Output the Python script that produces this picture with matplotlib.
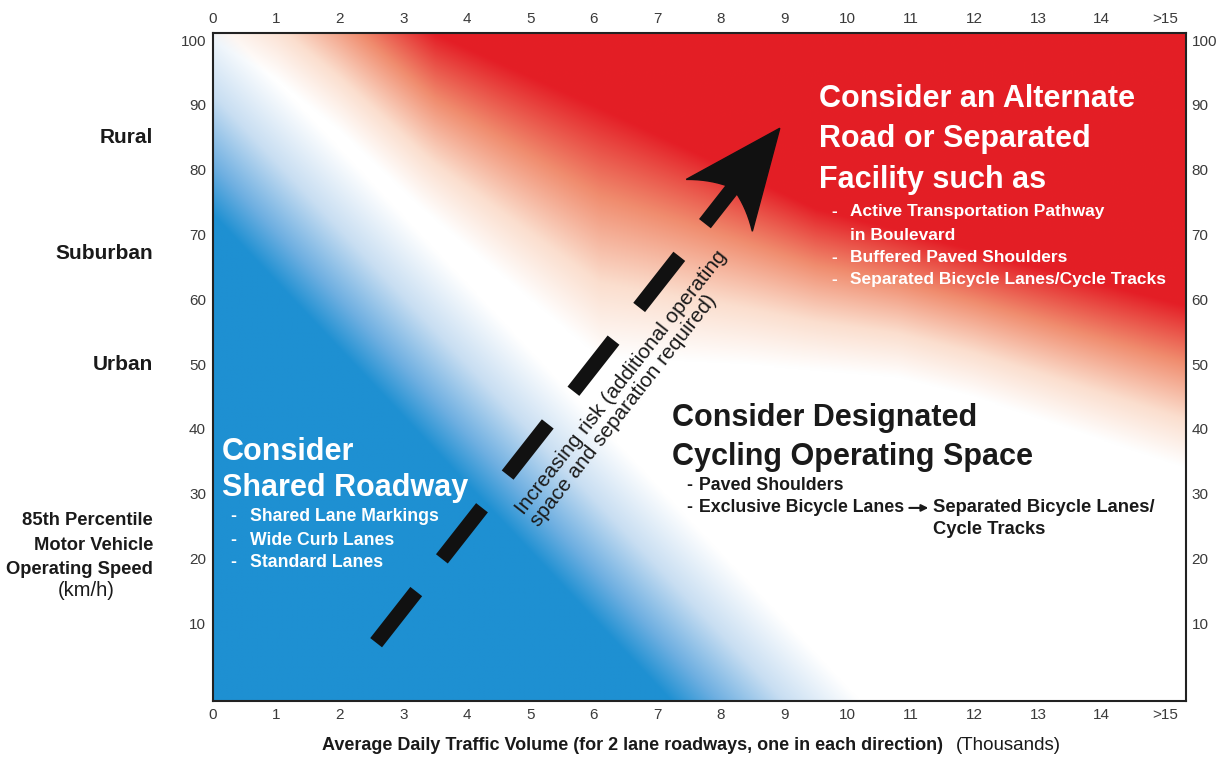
import numpy as np
import matplotlib
matplotlib.use('Agg')
import matplotlib.pyplot as plt
from matplotlib.patches import Polygon
from matplotlib.transforms import blended_transform_factory

plt.rcParams['lines.scale_dashes'] = False

# --- данные ---
volume_ticks = list(range(16))
volume_labels = [str(v) for v in range(15)] + ['>15']
speed_ticks = [10, 20, 30, 40, 50, 60, 70, 80, 90, 100]
area_labels = ['Rural', 'Suburban', 'Urban']
area_speeds = [85, 67, 50]

# границы зон (x - тыс. авто/сутки, y - км/ч)
blue_full_x = [0, 15.33]
blue_full_y = [73, -86.4]
blue_white_x = [0, 15.33]
blue_white_y = [104, -55.4]
red_full_x = [0, 3.5, 6, 9.5, 15.33]
red_full_y = [130, 101, 90, 74, 59]
red_white_x = [0, 1, 2, 3.3, 6.1, 8.4, 10.8, 12, 15.33]
red_white_y = [100, 94, 86, 74, 51, 50, 48, 45, 34]

arrow_start = (2.57, 7.0)
arrow_tip = (8.93, 86.4)

shared_title = ['Consider', 'Shared Roadway']
shared_items = ['Shared Lane Markings', 'Wide Curb Lanes', 'Standard Lanes']
designated_title = ['Consider Designated', 'Cycling Operating Space']
designated_items = ['Paved Shoulders', 'Exclusive Bicycle Lanes']
separated_note = ['Separated Bicycle Lanes/', 'Cycle Tracks']
alternate_title = ['Consider an Alternate', 'Road or Separated', 'Facility such as']
alternate_items = ['Active Transportation Pathway', 'in Boulevard',
                   'Buffered Paved Shoulders', 'Separated Bicycle Lanes/Cycle Tracks']

XMAX, YMIN, YMAX = 15.33, -2, 101.1
BLUE = np.array([30, 144, 210]) / 255
RED = np.array([228, 30, 38]) / 255
INK = '#1a1a1a'
FONT = ['Liberation Sans', 'DejaVu Sans']

fig = plt.figure(figsize=(12.31, 7.57), dpi=100)
ax = fig.add_axes([213 / 1231, 1 - 701 / 757, 973 / 1231, 668 / 757])
ax.set_xlim(0, XMAX)
ax.set_ylim(YMIN, YMAX)

# фон-градиент
xs = np.linspace(0, XMAX, 900)
ys = np.linspace(YMIN, YMAX, 650)
gx, gy = np.meshgrid(xs, ys)

bf = np.interp(gx, blue_full_x, blue_full_y)
bw = np.interp(gx, blue_white_x, blue_white_y)
fb = np.clip((bw - gy) / (bw - bf), 0, 1)

rf = np.interp(gx, red_full_x, red_full_y)
rw = np.interp(gx, red_white_x, red_white_y)
fr = np.clip((gy - rw) / (rf - rw), 0, 1)


def ramp(t, stops, cols):
    out = np.zeros(t.shape + (3,))
    for c in range(3):
        out[..., c] = np.interp(t, stops, [col[c] for col in cols])
    return out


blue_rgb = ramp(fb, [0, 0.4, 0.75, 1],
                [(1, 1, 1), (200 / 255, 222 / 255, 242 / 255), (110 / 255, 175 / 255, 225 / 255), BLUE])
red_rgb = ramp(fr, [0, 0.3, 0.65, 1],
               [(1, 1, 1), (251 / 255, 222 / 255, 206 / 255), (240 / 255, 140 / 255, 110 / 255), RED])
rgb = np.clip(blue_rgb + red_rgb - 1, 0, 1)
ax.imshow(rgb, extent=[0, XMAX, YMIN, YMAX], origin='lower', aspect='auto',
          interpolation='bilinear', zorder=0)

# оси и подписи делений
for s in ax.spines.values():
    s.set_linewidth(1.5)
    s.set_color('#222222')
ax.set_xticks(volume_ticks)
ax.set_xticklabels(volume_labels)
ax.set_yticks(speed_ticks)
ax.tick_params(length=0, labelsize=11, labelcolor='#3a3a3a', pad=5)
top = ax.secondary_xaxis('top')
top.set_xticks(volume_ticks)
top.set_xticklabels(volume_labels)
top.tick_params(length=0, labelsize=11, labelcolor='#3a3a3a', pad=5)
top.spines['top'].set_visible(False)
right = ax.secondary_yaxis('right')
right.set_yticks(speed_ticks)
right.tick_params(length=0, labelsize=11, labelcolor='#3a3a3a', pad=4)
right.spines['right'].set_visible(False)
for lab in ax.get_xticklabels() + ax.get_yticklabels() + top.get_xticklabels() + right.get_yticklabels():
    lab.set_family(FONT)

# подписи слева
trans = blended_transform_factory(ax.transAxes, ax.transData)
for name, sp in zip(area_labels, area_speeds):
    ax.text(-0.0617, sp, name, transform=trans, ha='right', va='center',
            fontsize=15, fontweight='bold', color=INK, family=FONT)

fig.text(153 / 1231, 1 - 545 / 757, '85th Percentile\nMotor Vehicle\nOperating Speed',
         ha='right', va='center', multialignment='right', fontsize=13.2,
         fontweight='bold', color=INK, family=FONT, linespacing=1.55)
fig.text(86 / 1231, 1 - 591 / 757, '(km/h)', ha='center', va='center',
         fontsize=14.5, color=INK, family=FONT)

renderer = fig.canvas.get_renderer()
xl = fig.text(322 / 1231, 1 - 745 / 757,
              'Average Daily Traffic Volume (for 2 lane roadways, one in each direction)',
              ha='left', va='center', fontsize=13, fontweight='bold', color=INK, family=FONT)
bb = xl.get_window_extent(renderer)
fig.text((bb.x1 + 13) / 1231, 1 - 745 / 757, '(Thousands)', ha='left', va='center',
         fontsize=13.5, color=INK, family=FONT)

# зона: совместная проезжая часть
for line, yy in zip(shared_title, [36.4, 30.9]):
    ax.text(0.14, yy, line, color='white', fontsize=22, fontweight='bold',
            va='center', family=FONT)
for item, yy in zip(shared_items, [26.4, 22.8, 19.3]):
    ax.text(0.27, yy, '-', color='white', fontsize=12.7, fontweight='bold', va='center', family=FONT)
    ax.text(0.58, yy, item, color='white', fontsize=12.7, fontweight='bold', va='center', family=FONT)

# зона: выделенное пространство
for line, yy in zip(designated_title, [41.7, 35.7]):
    ax.text(7.23, yy, line, color=INK, fontsize=22, fontweight='bold',
            va='center', family=FONT)
last = None
for item, yy in zip(designated_items, [31.2, 27.8]):
    ax.text(7.45, yy, '-', color=INK, fontsize=12.8, fontweight='bold', va='center', family=FONT)
    last = ax.text(7.66, yy, item, color=INK, fontsize=12.8, fontweight='bold', va='center', family=FONT)
inv = ax.transData.inverted()
end_px = last.get_window_extent(renderer).x1
a0 = inv.transform((end_px + 5, 0))[0]
a1 = inv.transform((end_px + 24, 0))[0]
ax.annotate('', xy=(a1, 27.8), xytext=(a0, 27.8),
            arrowprops=dict(arrowstyle='-|>', color=INK, lw=1.5, mutation_scale=10,
                            shrinkA=0, shrinkB=0))
sep_x = inv.transform((end_px + 29, 0))[0]
for line, yy in zip(separated_note, [27.8, 24.5]):
    ax.text(sep_x, yy, line, color=INK, fontsize=13.2, fontweight='bold', va='center', family=FONT)

# зона: альтернативная дорога
for line, yy in zip(alternate_title, [90.9, 84.7, 78.4]):
    ax.text(9.55, yy, line, color='white', fontsize=22, fontweight='bold',
            va='center', family=FONT)
for item, yy in zip(alternate_items, [73.5, 69.9, 66.4, 63.0]):
    if item != 'in Boulevard':
        ax.text(9.74, yy, '-', color='white', fontsize=12.5, fontweight='bold', va='center', family=FONT)
    ax.text(10.04, yy, item, color='white', fontsize=12.5, fontweight='bold', va='center', family=FONT)

# стрелка роста риска
p0 = ax.transData.transform(arrow_start)
p1 = ax.transData.transform(arrow_tip)
L = np.hypot(*(p1 - p0))
u = (p1 - p0) / L
n = np.array([-u[1], u[0]])
shaft_end = inv.transform(p0 + u * (L - 64))
ax.plot([arrow_start[0], shaft_end[0]], [arrow_start[1], shaft_end[1]], color='#111111',
        lw=10.8, solid_capstyle='butt', dash_capstyle='butt', dashes=(46.8, 29.9), zorder=3)

notch = p1 - u * 76
outline = [p1]
for side in (1, -1):
    wing = p1 - u * 98 + side * n * 42
    ctrl = p1 - u * 82 + side * n * 22
    ts = np.linspace(0, 1, 10)
    curve = [(1 - t) ** 2 * wing + 2 * (1 - t) * t * ctrl + t ** 2 * notch for t in ts]
    outline += curve if side == 1 else curve[::-1]
ax.add_patch(Polygon([inv.transform(p) for p in outline], closed=True,
                     color='#111111', zorder=3))

angle = np.degrees(np.arctan2(u[1], u[0]))
ax.text(6.55, 46.2, 'Increasing risk (additional operating\nspace and separation required)',
        rotation=angle, rotation_mode='anchor', ha='center', va='center',
        multialignment='left', fontsize=15, color=INK, family=FONT, linespacing=1.0)

fig.savefig('out.png', dpi=100)
